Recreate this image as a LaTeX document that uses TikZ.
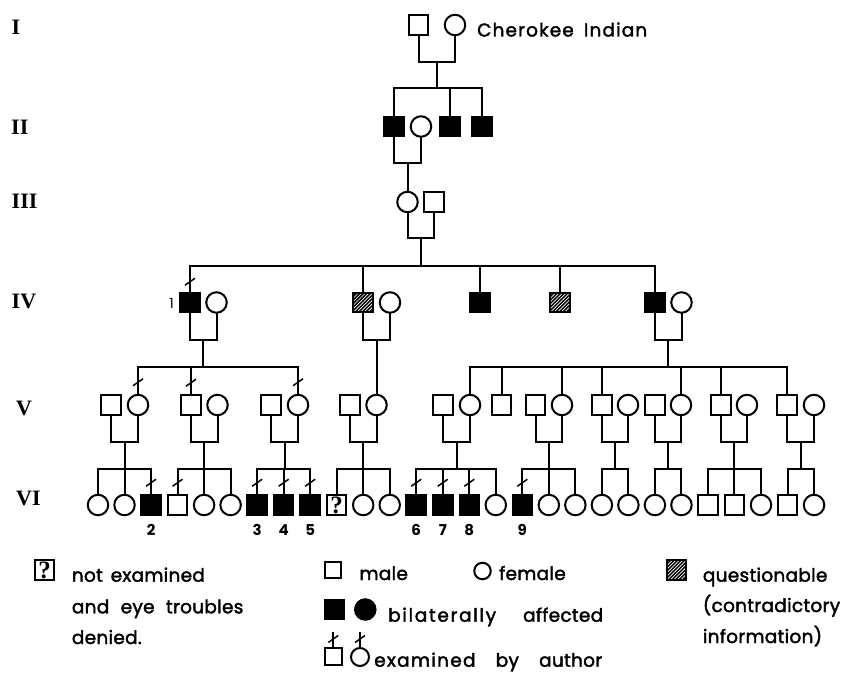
\documentclass[tikz,border=0pt]{standalone}
\usepackage{fontspec}
\setmainfont{Poppins}
\newfontfamily\genfont{Liberation Serif}
\usetikzlibrary{calc}

\tikzset{
  lw/.style={line width=2pt},
  ind/.style={draw, lw, inner sep=0pt, outer sep=0pt, fill=white},
  ml/.style={ind, rectangle, minimum size=19.5pt},
  fe/.style={ind, circle, minimum size=20.5pt},
  aml/.style={ml, fill=black},
  hml/.style={ml, path picture={
      \fill[black] (path picture bounding box.south west) rectangle (path picture bounding box.north east);
      \foreach \k in {-28,-24.5,...,24}{\draw[white,line width=0.7pt] ([xshift=\k pt]path picture bounding box.south west) -- ++(30pt,30pt);}
  }},
  qml/.style={ml, font=\genfont\bfseries\fontsize{25}{25}\selectfont},
  conn/.style={lw},
  tickl/.style={line width=1.5pt},
  gen/.style={anchor=base west, inner sep=0pt, font=\genfont\bfseries\fontsize{22}{22}\selectfont},
  ltxt/.style={anchor=base west, inner sep=0pt, font=\fontsize{18.5}{18.5}\selectfont\addfontfeatures{LetterSpace=1.5,FakeBold=2}},
  ctxt/.style={anchor=base west, inner sep=0pt, font=\fontsize{18.5}{18.5}\selectfont\addfontfeatures{LetterSpace=2,FakeBold=2}},
  num/.style={anchor=base, inner sep=0pt, font=\bfseries\fontsize{15}{15}\selectfont},
}
\newcommand\wide[2]{{\addfontfeatures{LetterSpace=#1}#2}}
\newcommand\tk[2][12.5pt]{\draw[tickl] ([yshift=#1]#2.north) ++(-5pt,-3.5pt) -- ++(10pt,7pt);}
\newcommand\famline[6]{%
  \coordinate (c#1) at (#3,441.7);
  \coordinate (s#1) at (#3,469);
  \draw[conn] (#1.south) |- (c#1) -| (#2.south);
  \draw[conn] (c#1) -- (s#1);
  \draw[conn] (#4.north) |- (s#1) -| (#5.north);
  \foreach \m in {#6} {\draw[conn] (s#1) -| (\m.north);}
}

\begin{document}
\begin{tikzpicture}[x=1pt,y=-1pt]
\fill[white] (0,0) rectangle (844,677);
\useasboundingbox (0,0) rectangle (844,677);

% generation labels
\node[gen] (gI) at (11.5,35) {I};
\node[gen] (gII) at (11,135) {II};
\node[gen] (gIII) at (11.5,208.5) {III};
\node[gen] (gIV) at (11.5,308.5) {IV};
\node[gen] (gV) at (16,415) {V};
\node[gen] (gVI) at (16,505) {VI};

% Generation I
\node[ml] (i1) at (418.5,25) {};
\node[fe] (i2) at (455,25) {};
\node[ctxt] (cher) at (477,36.5) {\makebox[170pt][s]{\wide{6}{Cherokee} \wide{6}{Indian}}};
\coordinate (ci) at (436.75,62);
\coordinate (si) at (436.75,88);
\draw[conn] (i1.south) |- (ci) -| (i2.south);
\draw[conn] (ci) -- (si);

% Generation II
\node[aml] (ii1) at (394,126.5) {};
\node[fe] (ii2) at (421,126.5) {};
\node[aml] (ii3) at (450,126.5) {};
\node[aml] (ii4) at (482,126.5) {};
\draw[conn] (ii1.north) |- (si) -| (ii4.north);
\draw[conn] (si) -| (ii3.north);
\coordinate (cii) at (407.5,163);
\draw[conn] (ii1.south) |- (cii) -| (ii2.south);

% Generation III
\node[fe] (iii1) at (407.5,202) {};
\node[ml] (iii2) at (434,202) {};
\draw[conn] (cii) -- (iii1.north);
\coordinate (ciii) at (420.75,238);
\coordinate (siii) at (420.75,266);
\draw[conn] (iii1.south) |- (ciii) -| (iii2.south);
\draw[conn] (ciii) -- (siii);

% Generation IV
\node[aml] (iv1) at (190,302.5) {};
\node[fe] (iv1w) at (216.5,302.5) {};
\node[hml] (iv2) at (363,302.5) {};
\node[fe] (iv2w) at (390,302.5) {};
\node[aml] (iv3) at (480,302.5) {};
\node[hml] (iv4) at (560,302.5) {};
\node[aml] (iv5) at (655,302.5) {};
\node[fe] (iv5w) at (681.5,302.5) {};
\node[anchor=east, inner sep=0pt, font=\fontsize{14}{14}\selectfont] (n1) at (174,303) {1};
\draw[conn] (iv1.north) |- (siii) -| (iv5.north);
\draw[conn] (siii) -| (iv2.north);
\draw[conn] (siii) -| (iv3.north);
\draw[conn] (siii) -| (iv4.north);
\coordinate (civ1) at (203.25,339.5);
\coordinate (siv1) at (203.25,367);
\draw[conn] (iv1.south) |- (civ1) -| (iv1w.south);
\draw[conn] (civ1) -- (siv1);
\coordinate (civ2) at (376.5,339.5);
\draw[conn] (iv2.south) |- (civ2) -| (iv2w.south);
\coordinate (civ5) at (668.25,340);
\coordinate (siv5) at (668.25,367);
\draw[conn] (iv5.south) |- (civ5) -| (iv5w.south);
\draw[conn] (civ5) -- (siv5);

% Generation V
\foreach \n/\t/\x in {1/ml/111, 2/fe/138, 3/ml/191, 4/fe/217.5, 5/ml/271, 6/fe/298,
  7/ml/350, 8/fe/376.5, 9/ml/443, 10/fe/470, 11/ml/501.5, 12/ml/535.5, 13/fe/562,
  14/ml/602, 15/fe/628, 16/ml/655, 17/fe/681, 18/ml/721, 19/fe/747, 20/ml/787, 21/fe/814}
  {\node[\t] (v\n) at (\x,405) {};}
\draw[conn] (v2.north) |- (siv1) -| (v6.north);
\draw[conn] (siv1) -| (v3.north);
\draw[conn] (civ2) -- (v8.north);
\draw[conn] (v10.north) |- (siv5) -| (v20.north);
\foreach \m in {v11,v13,v14,v17,v18} {\draw[conn] (siv5) -| (\m.north);}

% Generation VI
\foreach \i/\t in {0/fe,1/fe,2/aml,3/ml,4/fe,5/fe,6/aml,7/aml,8/aml,9/qml,10/fe,11/fe,
  12/aml,13/aml,14/aml,15/fe,16/aml,17/fe,18/fe,19/fe,20/fe,21/fe,22/fe,23/ml,24/ml,
  25/fe,26/ml,27/fe}
  {\node[\t] (g\i) at ({98+26.52*\i},505) {};}
\node[qml] (g9q) at (g9) {?};

\famline{v1}{v2}{124.5}{g0}{g2}{g1}
\famline{v3}{v4}{204.25}{g3}{g5}{g4}
\famline{v5}{v6}{284.5}{g6}{g8}{g7}
\famline{v7}{v8}{363.25}{g9}{g11}{g10}
\famline{v9}{v10}{456.5}{g12}{g15}{g13,g14}
\famline{v12}{v13}{548.75}{g16}{g18}{g17}
\famline{v14}{v15}{615}{g19}{g20}{g19}
\famline{v16}{v17}{668}{g21}{g22}{g21}
\famline{v18}{v19}{734}{g23}{g25}{g24}
\famline{v20}{v21}{800.5}{g26}{g27}{g26}

% examined marks
\tk[11pt]{iv1}
\foreach \m in {v2,v3,v6,g2,g3,g6,g7,g8,g12,g13,g14,g16} {\tk{\m}}

% numbers
\foreach \i/\l in {2/2,6/3,7/4,8/5,12/6,13/7,14/8,16/9}
  {\node[num] (n\l) at ($(g\i.center)+(0,30.5)$) {\l};}

% legend
\node[qml] (lq) at (44.5,570) {?};
\node[ltxt] (tq1) at (71.7,581.7) {\makebox[133pt][s]{not examined}};
\node[ltxt] (tq2) at (71.7,613.3) {\makebox[171.5pt][s]{and eye troubles}};
\node[ltxt] (tq3) at (71.7,644) {denied.};

\node[ml, minimum size=16pt] (lm) at (333,570) {};
\node[ltxt] (tm) at (359.3,580) {male};
\node[fe, minimum size=16.5pt] (lf) at (482.5,571) {};
\node[ltxt] (tf) at (499,580) {female};

\node[aml, minimum size=19pt] (la1) at (334.5,609.5) {};
\node[fe, fill=black, minimum size=20.5pt] (la2) at (365.3,609.5) {};
\node[ltxt] (ta) at (388,621.7) {\makebox[215pt][s]{\wide{9}{bilaterally} affected}};

\node[ml, minimum size=17.5pt] (le1) at (333.3,656.7) {};
\node[fe, minimum size=18pt] (le2) at (360,657) {};
\coordinate (le1t) at (333.3,631.7);
\coordinate (le2t) at (360,631.7);
\draw[conn] (le1.north) -- (le1t);
\draw[conn] (le2.north) -- (le2t);
\tk[9pt]{le1}
\tk[9pt]{le2}
\node[ltxt] (te) at (374,666.7) {\makebox[228pt][s]{\wide{7}{examined} by author}};

\node[hml] (lh) at (676.7,570) {};
\node[ltxt] (th1) at (702.7,581.7) {questionable};
\node[ltxt] (th2) at (702.7,612) {(contradictory};
\node[ltxt] (th3) at (702.7,643) {information)};
\end{tikzpicture}
\end{document}
